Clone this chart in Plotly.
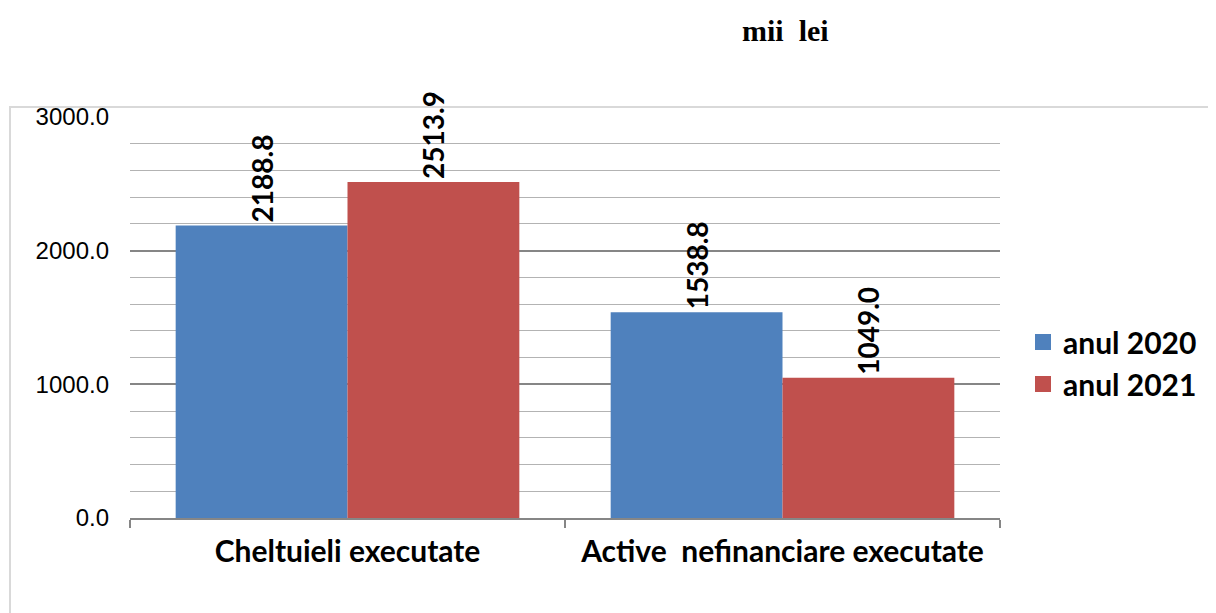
import plotly.graph_objects as go

categories = ["Cheltuieli executate", "Active  nefinanciare executate"]
series_names = ["anul 2020", "anul 2021"]
values_2020 = [2188.8, 1538.8]
values_2021 = [2513.9, 1049.0]
y_ticks = [0, 1000, 2000, 3000]
title_text = "mii\u00a0\u00a0lei"

colors = ["#4F81BD", "#C0504D"]

fig = go.Figure()
for name, vals, col in zip(series_names, [values_2020, values_2021], colors):
    fig.add_trace(go.Bar(
        x=categories, y=vals, name=name, showlegend=False,
        marker=dict(color=col, line=dict(width=0)),
        text=[f"{v:.1f}" for v in vals],
        textposition="outside", textangle=-90,
        textfont=dict(family="Lato", size=28, color="black", weight="bold"),
        cliponaxis=False,
    ))
# legend entries with larger square swatches
for name, col in zip(series_names, colors):
    fig.add_trace(go.Scatter(
        x=[None], y=[None], mode="markers", name=name,
        marker=dict(symbol="square", size=18, color=col),
    ))

OFF = 8  # page body margin
W, H = 1216 - OFF, 613 - OFF
PL, PR, PT, PB = 130, 1000, 117, 518
L, T = PL - OFF, PT - OFF
R = W - (PR - OFF)
B = H - (PB - OFF)
pw, ph = PR - PL, PB - PT

def px(x):
    return (x - PL) / pw

def py(y):
    return (PB - y) / ph

fig.update_layout(
    width=W, height=H,
    margin=dict(l=L, r=R, t=T, b=B),
    paper_bgcolor="white", plot_bgcolor="white",
    barmode="group", bargap=0.21, bargroupgap=0,
    showlegend=True,
    legend=dict(x=px(1023), y=py(363), xanchor="left", yanchor="middle",
                font=dict(family="Lato", size=30, color="black", weight="bold"),
                tracegroupgap=0, itemwidth=30, itemsizing="trace"),
    annotations=[dict(text="<b>" + title_text + "</b>", x=px(785), y=py(30),
                      xref="paper", yref="paper", showarrow=False,
                      xanchor="center", yanchor="middle",
                      font=dict(family="Liberation Serif", size=30, color="black"))],
    shapes=[dict(type="path", xref="paper", yref="paper",
                 path=f"M {px(10)} {py(640)} L {px(10)} {py(107)} L {px(1230)} {py(107)}",
                 line=dict(color="#D9D9D9", width=2), layer="below")],
)

fig.update_xaxes(
    showline=True, linecolor="#868686", linewidth=1.5,
    ticks="outside", tickson="boundaries", ticklen=8, tickcolor="#868686", tickwidth=1.5,
    tickfont=dict(family="Lato", size=30, color="black", weight="bold"),
    showgrid=False, ticklabelstandoff=6,
)
fig.update_yaxes(
    range=[0, 3000], tickvals=y_ticks, tickformat=".1f",
    tickfont=dict(family="Liberation Sans", size=24, color="black"),
    showgrid=True, gridcolor="#868686", gridwidth=2,
    minor=dict(dtick=200, showgrid=True, gridcolor="#B3B3B3", gridwidth=1),
    showline=False, ticks="", ticklabelstandoff=20,
    zeroline=False,
)

fig.write_html("out.html")
